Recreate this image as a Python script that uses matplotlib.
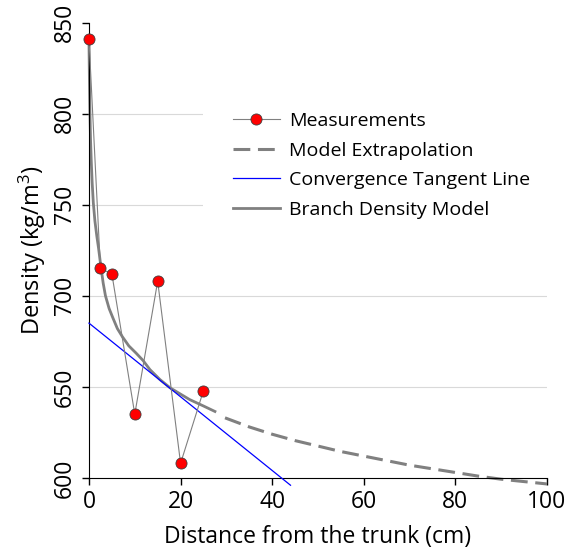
import matplotlib
matplotlib.use("Agg")
import matplotlib.pyplot as plt

plt.rcParams["font.family"] = ["Open Sans", "DejaVu Sans"]
plt.rcParams["mathtext.default"] = "regular"

# ── Données ─────────────────────────────────────────────────────────────────
meas_x = [0, 2.5, 5, 10, 15, 20, 25]
meas_y = [841, 715, 712, 635, 708, 608, 648]

model_x = [0, 0.1, 0.2, 0.35, 0.5, 0.7, 0.95, 1.3, 1.7, 2.1, 2.6, 3.1, 3.6,
           4.4, 5.2, 6.2, 7.3, 8.7, 10.3, 11.8, 13.3, 15.5, 17.7, 20, 22,
           25, 27.5]
model_y = [840, 818, 802, 785, 774, 762, 751, 741, 733, 726, 716, 707, 700,
           693, 688, 682, 677.5, 672.5, 668.5, 664.5, 659.5, 654, 649.5,
           646, 643, 639.5, 636.5]

extra_x = [29.7, 35, 40, 45, 50, 55, 60, 65, 70, 75, 80, 85, 90, 95, 100]
extra_y = [633, 628, 624, 620.5, 617.5, 614.5, 612, 609.5, 607,
           605, 603, 601, 599.3, 598, 596.7]

tangent_x = [0, 44]
tangent_y = [685, 596]

xticks = [0, 20, 40, 60, 80, 100]
yticks = [600, 650, 700, 750, 800, 850]
grid_y = [650, 700, 750, 800]

GRAY = "#808080"

fig = plt.figure(figsize=(5.74, 5.5), dpi=100)
ax = fig.add_axes([0.155, 0.131, 0.798, 0.828])

for yv in grid_y:
    ax.axhline(yv, color="#d9d9d9", linewidth=0.8, zorder=0)

ax.plot(extra_x, extra_y, color=GRAY, linewidth=2.2, dashes=(5.5, 2.5),
        label="Model Extrapolation", clip_on=False, zorder=2)
ax.plot(tangent_x, tangent_y, color="#0000ff", linewidth=0.9,
        label="Convergence Tangent Line", clip_on=False, zorder=3)
ax.plot(model_x, model_y, color=GRAY, linewidth=2.0,
        label="Branch Density Model", clip_on=False, zorder=2)
ax.plot(meas_x, meas_y, color=GRAY, linewidth=0.8, marker="o",
        markersize=8, markerfacecolor="#ff0000", markeredgecolor="#404040",
        markeredgewidth=0.6, label="Measurements", clip_on=False, zorder=4)

ax.set_xlim(0, 100)
ax.set_ylim(600, 850)
ax.set_xticks(xticks)
ax.set_yticks(yticks)
ax.tick_params(axis="both", labelsize=16.5, direction="out", length=5, width=1)
for lab in ax.get_yticklabels():
    lab.set_rotation(90)
    lab.set_va("center")

for s in ["top", "right"]:
    ax.spines[s].set_visible(False)

ax.set_xlabel("Distance from the trunk (cm)", fontsize=16.5, labelpad=8)
ax.set_ylabel("Density (kg/m$^{3}$)", fontsize=17, labelpad=4)

h, l = ax.get_legend_handles_labels()
order = [3, 0, 1, 2]
leg = ax.legend([h[i] for i in order], [l[i] for i in order],
                loc="upper left", bbox_to_anchor=(0.25, 0.867), fontsize=14,
                frameon=True, framealpha=1, edgecolor="none",
                facecolor="white", handlelength=2.42, handletextpad=0.46,
                labelspacing=0.59, borderaxespad=0, borderpad=1.5)

fig.savefig("out.png", dpi=100)
